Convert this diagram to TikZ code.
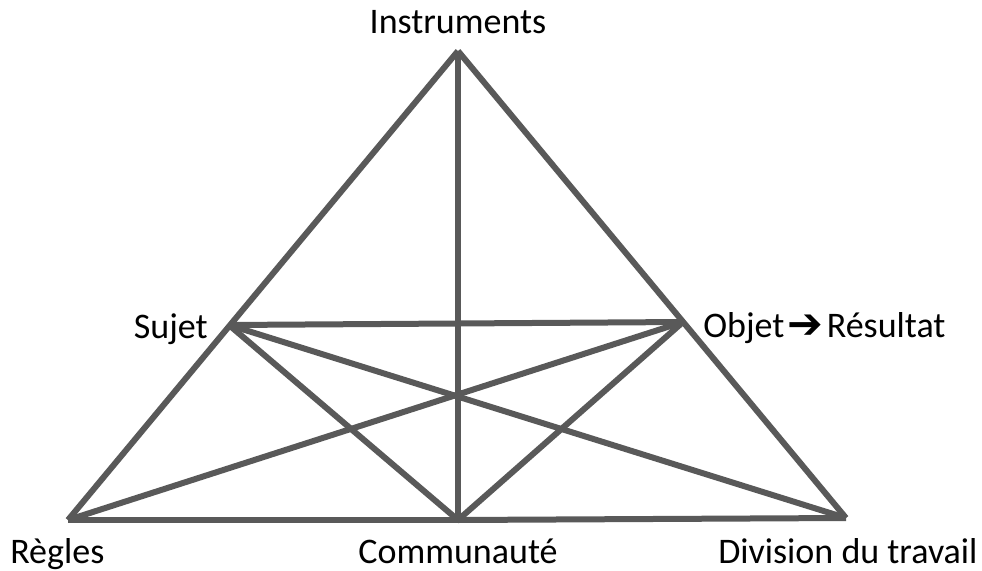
\documentclass[tikz,border=0pt]{standalone}
\usepackage{fontspec}
\setmainfont{Carlito}
\newfontfamily\symfont{DejaVu Sans Bold}
\begin{document}
\begin{tikzpicture}[x=0.75pt,y=-0.75pt,
  edge/.style={draw=edgegray,line width=4.5pt},
  lbl/.style={font=\fontsize{27pt}{32pt}\selectfont,inner sep=0pt,text=black}]
\definecolor{edgegray}{HTML}{595959}
\useasboundingbox (0,0) rectangle (982,571);
\coordinate (I) at (458,51);
\coordinate (S) at (229,325);
\coordinate (O) at (683,322);
\coordinate (R) at (68,520);
\coordinate (C) at (458,520);
\coordinate (D) at (846,518);
\draw[edge] (I) -- (R);
\draw[edge] (I) -- (D);
\draw[edge] (R) -- (C);
\draw[edge] (C) -- (D);
\draw[edge] (I) -- (C);
\draw[edge] (S) -- (O);
\draw[edge] (S) -- (C);
\draw[edge] (S) -- (D);
\draw[edge] (O) -- (C);
\draw[edge] (O) -- (R);
\node[lbl,anchor=base] (tI) at (458,33) {Instruments};
\node[lbl,anchor=base east] (tS) at (208,338) {Sujet};
\node[lbl,anchor=base west] (tO) at (703,337) {Objet\kern2pt\raisebox{-1pt}{\symfont\fontsize{32pt}{36pt}\selectfont ➔}\kern3pt Résultat};
\node[lbl,anchor=base west] (tR) at (10,563) {Règles};
\node[lbl,anchor=base] (tC) at (458,563) {Communauté};
\node[lbl,anchor=base west] (tD) at (718,563) {Division du travail};
\end{tikzpicture}
\end{document}
